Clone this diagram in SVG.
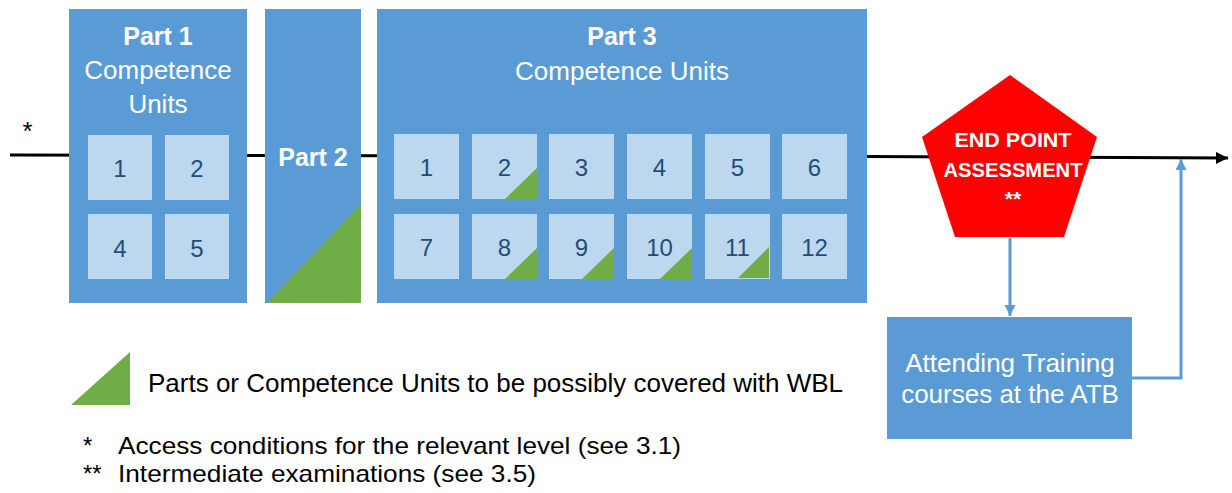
<svg xmlns="http://www.w3.org/2000/svg" width="1232" height="493" viewBox="0 0 1232 493">
<style>
  .box { fill: #5B9BD5; }
  .sq { fill: #BDD7EE; }
  .wbl { fill: #70AD47; }
  text { font-family: "Liberation Sans", Arial, sans-serif; }
  .title { fill: #FFFFFF; font-size: 25px; font-weight: bold; text-anchor: middle; }
  .sub { fill: #FFFFFF; font-size: 26px; text-anchor: middle; }
  .num { fill: #1F4E79; font-size: 24px; text-anchor: middle; }
  .epa { fill: #FFFFFF; font-size: 21px; font-weight: bold; text-anchor: middle; }
  .leg { fill: #000000; font-size: 26px; }
  .note { fill: #000000; font-size: 24px; }
  .flow { fill: none; stroke: #000000; stroke-width: 3; }
  .blue { fill: none; stroke: #5B9BD5; stroke-width: 3; }
</style>
<defs>
  <marker id="arrBlack" markerUnits="userSpaceOnUse" markerWidth="14" markerHeight="12" refX="12" refY="6" orient="auto">
    <path d="M0,0 L12,6 L0,12 Z" fill="#000000"/>
  </marker>
  <marker id="arrBlue" markerUnits="userSpaceOnUse" markerWidth="12" markerHeight="12" refX="11" refY="5.5" orient="auto">
    <path d="M0,0 L11,5.5 L0,11 Z" fill="#5B9BD5"/>
  </marker>
</defs>

<rect width="1232" height="493" fill="#FFFFFF"/>

<g id="connectors">
  <path class="flow" d="M10,155 L866,156.5 L1228,158" marker-end="url(#arrBlack)"/>
  <path class="blue" d="M1010,238 L1010,316" marker-end="url(#arrBlue)"/>
  <path class="blue" d="M1132,378 L1181,378 L1181,159" marker-end="url(#arrBlue)"/>
</g>

<text class="leg" x="27.5" y="140" text-anchor="middle" font-size="24">*</text>

<g id="part1">
  <rect class="box" x="69" y="9" width="178" height="294"/>
  <text class="title" x="158" y="45">Part 1</text>
  <text class="sub" x="158" y="79">Competence</text>
  <text class="sub" x="158" y="113">Units</text>
  <g id="p1-u1"><rect class="sq" x="88" y="135" width="64" height="65"/><text class="num" x="120" y="177">1</text></g>
  <g id="p1-u2"><rect class="sq" x="165" y="135" width="64" height="65"/><text class="num" x="197" y="177">2</text></g>
  <g id="p1-u4"><rect class="sq" x="88" y="214" width="64" height="65"/><text class="num" x="120" y="257">4</text></g>
  <g id="p1-u5"><rect class="sq" x="165" y="214" width="64" height="65"/><text class="num" x="197" y="257">5</text></g>
</g>

<g id="part2">
  <rect class="box" x="265" y="9" width="96" height="294"/>
  <polygon class="wbl" points="267,303 361,303 361,204"/>
  <text class="title" x="313" y="166">Part 2</text>
</g>

<g id="part3">
  <rect class="box" x="377" y="9" width="490" height="294"/>
  <text class="title" x="622" y="45">Part 3</text>
  <text class="sub" x="622" y="80">Competence Units</text>
  <g id="p3-u1"><rect class="sq" x="394" y="134" width="65" height="65"/><text class="num" x="426.5" y="176">1</text></g>
  <g id="p3-u2"><rect class="sq" x="472" y="134" width="65" height="65"/><polygon class="wbl" points="505,199 537,199 537,168"/><text class="num" x="504.5" y="176">2</text></g>
  <g id="p3-u3"><rect class="sq" x="549" y="134" width="65" height="65"/><text class="num" x="581.5" y="176">3</text></g>
  <g id="p3-u4"><rect class="sq" x="627" y="134" width="65" height="65"/><text class="num" x="659.5" y="176">4</text></g>
  <g id="p3-u5"><rect class="sq" x="705" y="134" width="65" height="65"/><text class="num" x="737.5" y="176">5</text></g>
  <g id="p3-u6"><rect class="sq" x="782" y="134" width="65" height="65"/><text class="num" x="814.5" y="176">6</text></g>
  <g id="p3-u7"><rect class="sq" x="394" y="214" width="65" height="65"/><text class="num" x="426.5" y="256">7</text></g>
  <g id="p3-u8"><rect class="sq" x="472" y="214" width="65" height="65"/><polygon class="wbl" points="505,279 537,279 537,248"/><text class="num" x="504.5" y="256">8</text></g>
  <g id="p3-u9"><rect class="sq" x="549" y="214" width="65" height="65"/><polygon class="wbl" points="582,279 614,279 614,248"/><text class="num" x="581.5" y="256">9</text></g>
  <g id="p3-u10"><rect class="sq" x="627" y="214" width="65" height="65"/><polygon class="wbl" points="660,279 692,279 692,248"/><text class="num" x="659.5" y="256">10</text></g>
  <g id="p3-u11"><rect class="sq" x="705" y="214" width="65" height="65"/><polygon class="wbl" points="738,278 769,278 769,247"/><text class="num" x="737.5" y="256">11</text></g>
  <g id="p3-u12"><rect class="sq" x="782" y="214" width="65" height="65"/><text class="num" x="814.5" y="256">12</text></g>
</g>

<g id="epa">
  <polygon points="1010,75 1097,137 1064,237 955,237 922,137" fill="#FF0000"/>
  <text class="epa" x="1013" y="147" textLength="117" lengthAdjust="spacingAndGlyphs">END POINT</text>
  <text class="epa" x="1013" y="177" textLength="139" lengthAdjust="spacingAndGlyphs">ASSESSMENT</text>
  <text class="epa" x="1013" y="206">**</text>
</g>

<g id="atb">
  <rect class="box" x="887" y="317" width="245" height="122"/>
  <text class="sub" x="1010" y="372">Attending Training</text>
  <text class="sub" x="1010" y="403">courses at the ATB</text>
</g>

<g id="legend">
  <polygon class="wbl" points="71,405 130,405 130,352"/>
  <text class="leg" x="148" y="392">Parts or Competence Units to be possibly covered with WBL</text>
  <text class="note" x="83" y="454">*</text>
  <text class="note" x="118" y="454" textLength="563" lengthAdjust="spacingAndGlyphs">Access conditions for the relevant level (see 3.1)</text>
  <text class="note" x="83" y="482">**</text>
  <text class="note" x="118" y="482" textLength="418" lengthAdjust="spacingAndGlyphs">Intermediate examinations (see 3.5)</text>
</g>
</svg>
